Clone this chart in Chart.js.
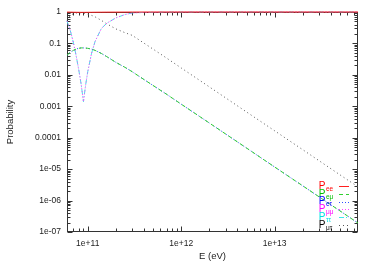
<!DOCTYPE html>
<html>
<head>
<meta charset="utf-8">
<script src="https://cdn.jsdelivr.net/npm/chart.js@4.4.1/dist/chart.umd.min.js"></script>
<style>
html, body { margin: 0; padding: 0; background: #fff; }
#wrap { width: 375px; height: 263px; }
</style>
</head>
<body>
<div id="wrap"><canvas id="chart" width="375" height="263"></canvas></div>
<script>
// values (E in eV)
const energy = [6e10, 6.5e10, 7e10, 7.5e10, 8e10, 8.5e10, 9e10, 9.5e10, 1e11, 1.1e11, 1.2e11, 1.4e11, 1.6e11, 2e11, 2.5e11, 3e11, 4e11, 5e11, 7e11, 1e12, 2e12, 5e12, 1e13, 2e13, 5e13, 7.8e13];
const pEE = [0.995, 0.99, 0.985, 0.98, 0.978, 0.976, 0.976, 0.977, 0.978, 0.98, 0.983, 0.987, 0.99, 0.993, 0.995, 0.997, 0.998, 0.999, 1, 1, 1, 1, 1, 1, 1, 1];
const pEMu = [0.042, 0.052, 0.060, 0.066, 0.070, 0.072, 0.072, 0.071, 0.070, 0.066, 0.060, 0.048, 0.038, 0.025, 0.0174, 0.0125, 0.0071, 0.0046, 0.0024, 0.00117, 2.94e-4, 4.7e-5, 1.17e-5, 2.94e-6, 4.7e-7, 1.93e-7];
const pETau = [0.042, 0.052, 0.060, 0.066, 0.070, 0.072, 0.072, 0.071, 0.070, 0.066, 0.060, 0.048, 0.038, 0.025, 0.0174, 0.0125, 0.0071, 0.0046, 0.0024, 0.00117, 2.94e-4, 4.7e-5, 1.17e-5, 2.94e-6, 4.7e-7, 1.93e-7];
const pMuMu = [0.52, 0.26, 0.111, 0.042, 0.015, 0.0051, 0.0014, 0.0048, 0.0125, 0.049, 0.117, 0.30, 0.44, 0.65, 0.83, 0.93, 0.97, 0.98, 0.99, 0.995, 0.998, 1, 1, 1, 1, 1];
const pTauTau = [0.52, 0.26, 0.111, 0.042, 0.015, 0.0051, 0.0014, 0.0048, 0.0125, 0.049, 0.117, 0.30, 0.44, 0.65, 0.83, 0.93, 0.97, 0.98, 0.99, 0.995, 0.998, 1, 1, 1, 1, 1];
const pMuTau = [0.55, 0.78, 0.88, 0.93, 0.95, 0.95, 0.93, 0.90, 0.85, 0.78, 0.70, 0.54, 0.42, 0.29, 0.22, 0.18, 0.102, 0.066, 0.034, 0.0166, 0.00415, 6.6e-4, 1.66e-4, 4.15e-5, 6.6e-6, 2.73e-6];

const subscripts = ['ee', 'eμ', 'eτ', 'μμ', 'ττ', 'μτ'];
const xTicks = [1e11, 1e12, 1e13];
const xTickLabels = ['1e+11', '1e+12', '1e+13'];
const yTicks = [1, 0.1, 0.01, 0.001, 0.0001, 1e-5, 1e-6, 1e-7];
const yTickLabels = ['1', '0.1', '0.01', '0.001', '0.0001', '1e-05', '1e-06', '1e-07'];

const FONT = "'Liberation Sans', 'DejaVu Sans', sans-serif";

const series = [pEE, pEMu, pETau, pMuMu, pTauTau, pMuTau];
const colors = ['#ff0000', '#00c000', '#0000ff', '#ff00ff', '#00e0e0', '#000000'];
const lineColors = ['#ff2020', '#30d030', '#3050ff', '#ff40ff', '#40e8e8', '#555555'];
const dashes = [[], [4, 3], [1, 2], [1, 2], [5, 2, 1, 2], [1, 3]];

const datasets = series.map((vals, i) => ({
    label: 'P' + subscripts[i],
    data: energy.map((e, j) => ({ x: e, y: vals[j] })),
    borderColor: lineColors[i],
    borderDash: dashes[i],
    borderWidth: 1,
    pointRadius: 0,
    tension: 0,
    clip: false
}));

// minor tick positions (2..9 x 10^n)
function minors(lo, hi) {
    const out = [];
    for (let p = Math.floor(Math.log10(lo)); p <= Math.ceil(Math.log10(hi)); p++) {
        for (let m = 2; m <= 9; m++) {
            const v = m * Math.pow(10, p);
            if (v > lo && v < hi) out.push(v);
        }
    }
    return out;
}

// gnuplot style box with inward ticks on all four sides
const frame = {
    id: 'frame',
    beforeDatasetsDraw(chart) {
        const { ctx, chartArea: a, scales: { x, y } } = chart;
        const L = a.left + 0.5, R = a.right - 0.5, T = a.top + 0.5, B = a.bottom - 0.5;
        ctx.save();
        ctx.strokeStyle = '#333';
        ctx.lineWidth = 1;
        ctx.beginPath();
        const xt = (v, len) => {
            const p = Math.round(x.getPixelForValue(v)) + 0.5;
            ctx.moveTo(p, B); ctx.lineTo(p, B - len);
            ctx.moveTo(p, T); ctx.lineTo(p, T + len);
        };
        const yt = (v, len) => {
            const p = Math.round(y.getPixelForValue(v)) + 0.5;
            ctx.moveTo(L, p); ctx.lineTo(L + len, p);
            ctx.moveTo(R, p); ctx.lineTo(R - len, p);
        };
        xTicks.forEach(v => xt(v, 5));
        minors(x.min, x.max).forEach(v => xt(v, 3));
        yTicks.forEach(v => yt(v, 5));
        minors(y.min, y.max).forEach(v => yt(v, 3));
        ctx.stroke();
        ctx.strokeRect(L, T, R - L, B - T);
        ctx.restore();
    }
};

// legend in lower right corner: coloured "P" with subscript and line sample
const keyBox = {
    id: 'keyBox',
    afterDatasetsDraw(chart) {
        const { ctx, chartArea: a } = chart;
        ctx.save();
        subscripts.forEach((s, i) => {
            const yy = a.bottom - 46 + i * 7.8;
            ctx.fillStyle = colors[i];
            ctx.textBaseline = 'middle';
            ctx.textAlign = 'center';
            ctx.font = '10px ' + FONT;
            ctx.fillText('P', a.right - 36, yy);
            ctx.textAlign = 'left';
            ctx.font = '6.5px ' + FONT;
            ctx.fillText(s, a.right - 32, yy + 3);
            ctx.strokeStyle = lineColors[i];
            ctx.lineWidth = 1;
            ctx.setLineDash(dashes[i]);
            ctx.beginPath();
            ctx.moveTo(a.right - 19, Math.round(yy) + 0.5);
            ctx.lineTo(a.right - 9, Math.round(yy) + 0.5);
            ctx.stroke();
        });
        ctx.restore();
    }
};

new Chart(document.querySelector('#chart'), {
    type: 'line',
    data: { datasets },
    options: {
        responsive: false,
        animation: false,
        events: [],
        layout: { padding: { top: 12, right: 17, left: 0, bottom: 0 } },
        plugins: { legend: { display: false }, tooltip: { enabled: false } },
        scales: {
            x: {
                type: 'logarithmic',
                min: 6e10,
                max: 7.8e13,
                afterBuildTicks: s => { s.ticks = xTicks.map(v => ({ value: v })); },
                afterFit: s => { s.height = 31; },
                grid: { display: false, drawTicks: false },
                border: { display: false },
                ticks: {
                    autoSkip: false,
                    maxRotation: 0,
                    padding: 7,
                    color: '#222',
                    font: { family: FONT, size: 8.5 },
                    callback: v => xTickLabels[xTicks.indexOf(v)]
                },
                title: {
                    display: true,
                    text: 'E (eV)',
                    color: '#222',
                    font: { family: FONT, size: 9.5 },
                    padding: { top: 0, bottom: 1 }
                }
            },
            y: {
                type: 'logarithmic',
                min: 1e-7,
                max: 1,
                afterBuildTicks: s => { s.ticks = yTicks.map(v => ({ value: v })); },
                afterFit: s => { s.width = 67; },
                grid: { display: false, drawTicks: false },
                border: { display: false },
                ticks: {
                    autoSkip: false,
                    padding: 6,
                    color: '#222',
                    font: { family: FONT, size: 8.5 },
                    callback: v => yTickLabels[yTicks.indexOf(v)]
                },
                title: {
                    display: true,
                    text: 'Probability',
                    color: '#222',
                    font: { family: FONT, size: 9.5 },
                    padding: { top: 5, bottom: 0 }
                }
            }
        }
    },
    plugins: [frame, keyBox]
});
</script>
</body>
</html>
